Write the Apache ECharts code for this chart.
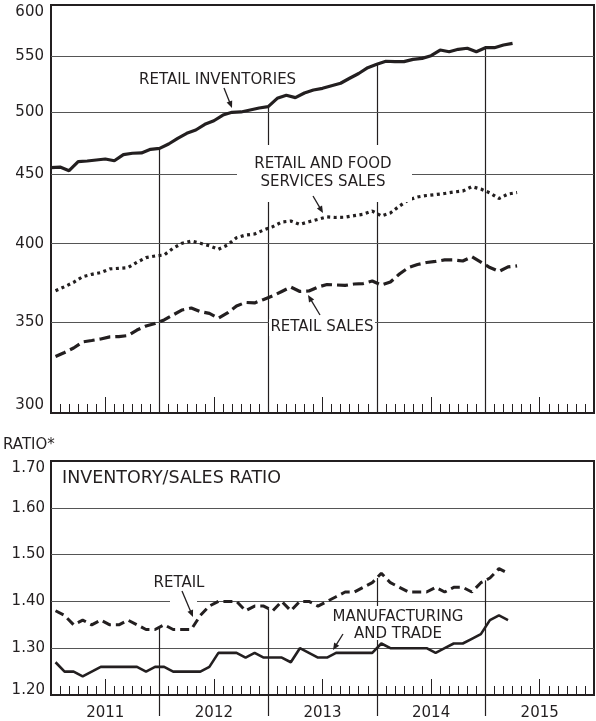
<!DOCTYPE html>
<html>
<head>
<meta charset="utf-8">
<script src="https://cdn.jsdelivr.net/npm/echarts@6/dist/echarts.min.js"></script>
<style>
  html, body { margin: 0; padding: 0; background: #fff; }
  #chart { width: 596px; height: 721px; }
</style>
</head>
<body>
<div id="chart"></div>
<script>
// ---------------- DATA ----------------
// Monthly, Jan 2011 onward (billions of dollars)
const retailInventories = [
  455.1, 455.6, 452.8, 459.8, 460.3, 461.1, 461.9, 460.5, 465.3, 466.4,
  466.7, 469.5, 470.3, 473.8, 478.4, 482.5, 485.2, 489.9, 492.9, 497.7,
  500.0, 500.3, 502.0, 503.7, 504.8, 512.0, 514.7, 512.6, 516.7, 519.3,
  520.8, 523.1, 525.3, 529.8, 534.1, 539.4, 542.5, 545.3, 545.0, 545.0,
  547.1, 548.0, 550.5, 555.8, 554.2, 556.5, 557.5, 554.2, 558.0, 558.0,
  560.6, 562.2
];
const retailFoodSales = [
  369.3, 371.8, 374.6, 378.2, 379.7, 380.8, 383.2, 383.6, 384.0, 387.6,
  390.6, 391.7, 392.4, 396.9, 400.3, 401.8, 400.3, 398.6, 396.2, 399.1,
  404.1, 405.9, 406.6, 409.4, 411.7, 415.0, 415.7, 413.3, 415.2, 416.9,
  418.6, 418.2, 418.4, 419.5, 420.5, 422.8, 419.3, 421.4, 426.4, 430.8,
  433.0, 434.1, 434.8, 435.6, 436.7, 437.4, 440.7, 438.9, 436.0, 431.9,
  435.2, 436.3
];
const retailSales = [
  330.2, 332.5, 335.0, 338.5, 339.3, 340.2, 341.4, 341.6, 342.2, 345.4,
  347.8, 349.3, 351.4, 354.4, 357.4, 358.6, 356.4, 355.3, 352.5, 355.6,
  359.8, 362.0, 361.7, 363.8, 366.0, 368.8, 371.6, 368.8, 369.1, 371.6,
  373.2, 372.9, 372.6, 373.5, 373.8, 375.4, 372.9, 374.8, 379.9, 384.1,
  386.1, 387.4, 388.1, 389.1, 389.1, 388.4, 391.2, 387.7, 384.1, 381.6,
  384.5, 385.2
];
const retailRatio = [
  1.38, 1.37, 1.35, 1.36, 1.35, 1.36, 1.35, 1.35, 1.36, 1.35,
  1.34, 1.34, 1.35, 1.34, 1.34, 1.34, 1.37, 1.39, 1.40, 1.40,
  1.40, 1.38, 1.39, 1.39, 1.38, 1.40, 1.38, 1.40, 1.40, 1.39,
  1.40, 1.41, 1.42, 1.42, 1.43, 1.44, 1.46, 1.44, 1.43, 1.42,
  1.42, 1.42, 1.43, 1.42, 1.43, 1.43, 1.42, 1.44, 1.45, 1.47,
  1.46
];
const mfgTradeRatio = [
  1.27, 1.25, 1.25, 1.24, 1.25, 1.26, 1.26, 1.26, 1.26, 1.26,
  1.25, 1.26, 1.26, 1.25, 1.25, 1.25, 1.25, 1.26, 1.29, 1.29,
  1.29, 1.28, 1.29, 1.28, 1.28, 1.28, 1.27, 1.30, 1.29, 1.28,
  1.28, 1.29, 1.29, 1.29, 1.29, 1.29, 1.31, 1.30, 1.30, 1.30,
  1.30, 1.30, 1.29, 1.30, 1.31, 1.31, 1.32, 1.33, 1.36, 1.37,
  1.36
];
const yearLabels = ['2011', '2012', '2013', '2014', '2015'];
const topTicks = [300, 350, 400, 450, 500, 550, 600];
const yearBoundaries = [12, 24, 36, 48];   // month index of Jan of each new year

// ---------------- STYLE / LAYOUT ----------------
const INK = '#231f20';
const GRID = '#555555';
const FONT = '"DejaVu Sans", sans-serif';
const PL = 51, PW = 543;           // plot left / width
const TOP1 = 5, H1 = 408;
const TOP2 = 461, H2 = 234;
const MONTHS = 60;

const inventorySeries = retailInventories.map((v, i) => [i, v]);
const foodSeries = retailFoodSales.map((v, i) => [i + 0.5, v]);
const salesSeries = retailSales.map((v, i) => [i + 0.5, v]);
const retailRatioSeries = retailRatio.map((v, i) => [i + 0.5, v]);
const mfgSeries = mfgTradeRatio.map((v, i) => [i + 0.5, v]);

const topDrop = yearBoundaries.map(b => [
  { coord: [b, retailInventories[b]] },
  { coord: [b, topTicks[0]] }
]);
const bottomDrop = yearBoundaries.map(b => [
  { coord: [b, (retailRatio[b - 1] + retailRatio[b]) / 2] },
  { coord: [b, 1.2] }
]);

function xAxisBase(gi, withLabels) {
  return {
    gridIndex: gi, type: 'value', min: 0, max: MONTHS, interval: 6,
    axisLine: { show: false },
    axisTick: { show: true, inside: true, length: 16, lineStyle: { color: INK, width: 1 } },
    minorTick: { show: true, splitNumber: 6, length: 9, lineStyle: { color: INK, width: 1 } },
    splitLine: { show: false },
    axisLabel: withLabels ? {
      show: true, margin: 11, fontSize: 15, fontFamily: FONT, color: INK,
      formatter: v => {
        const k = Math.round(v);
        return (k % 12 === 6) ? (yearLabels[(k - 6) / 12] || '') : '';
      }
    } : { show: false }
  };
}

function arrow(x1, y1, x2, y2) {
  const dx = x2 - x1, dy = y2 - y1, L = Math.hypot(dx, dy);
  const ux = dx / L, uy = dy / L, hl = 7, hw = 3;
  const bx = x2 - ux * hl, by = y2 - uy * hl;
  return [
    { type: 'line', z: 102, shape: { x1: x1, y1: y1, x2: bx + ux, y2: by + uy },
      style: { stroke: INK, lineWidth: 1.3 } },
    { type: 'polygon', z: 102,
      shape: { points: [[x2, y2], [bx - uy * hw, by + ux * hw], [bx + uy * hw, by - ux * hw]] },
      style: { fill: INK } }
  ];
}
function txt(text, x, y, size, align) {
  return {
    type: 'text', z: 103, x: x, y: y,
    style: {
      text: text, fill: INK, font: size + 'px ' + FONT,
      align: align || 'center', verticalAlign: 'middle',
      textAlign: align || 'center', textVerticalAlign: 'middle'
    }
  };
}
function whiteBox(x, y, w, h) {
  return { type: 'rect', z: 100, shape: { x: x, y: y, width: w, height: h },
           style: { fill: '#fff' } };
}

const graphics = [
  whiteBox(237, 145, 175, 57),
  whiteBox(269, 319, 106, 17),
  whiteBox(170, 598, 27, 6),
  whiteBox(322, 606, 152, 19),
  whiteBox(350, 624, 98, 16),
  txt('RETAIL INVENTORIES', 139, 80, 15, 'left'),
  txt('RETAIL AND FOOD', 323, 164, 15),
  txt('SERVICES SALES', 323, 182, 15),
  txt('RETAIL SALES', 322, 327, 15),
  txt('RATIO*', 3, 445, 15, 'left'),
  txt('INVENTORY/SALES RATIO', 62, 478, 17.5, 'left'),
  txt('RETAIL', 179, 583, 15),
  txt('MANUFACTURING', 398, 617, 15),
  txt('AND TRADE', 398, 634, 15),
  ...arrow(224, 88, 232, 108),
  ...arrow(313, 196, 323, 213),
  ...arrow(320, 315, 308, 295),
  ...arrow(182, 591, 193, 617),
  ...arrow(343, 634, 333, 650)
];

const topMin = topTicks[0], topMax = topTicks[topTicks.length - 1];
const gridLineData = topTicks.map(v => {
  if (v === topMax) return { yAxis: v, lineStyle: { color: INK, width: 2 }, label: { verticalAlign: 'top' } };
  if (v === topMin) return { yAxis: v, lineStyle: { color: INK, width: 2 }, label: { verticalAlign: 'bottom' } };
  return { yAxis: v };
});

const chart = echarts.init(document.getElementById('chart'), null, { renderer: 'canvas' });
chart.setOption({
  animation: false,
  backgroundColor: '#fff',
  grid: [
    { left: PL, top: TOP1, width: PW, height: H1, show: true, borderColor: INK, borderWidth: 2,
      backgroundColor: 'transparent', containLabel: false, outerBoundsMode: 'none' },
    { left: PL, top: TOP2, width: PW, height: H2, show: true, borderColor: INK, borderWidth: 2,
      backgroundColor: 'transparent', containLabel: false, outerBoundsMode: 'none' },
    { left: PL + PW * 12 / MONTHS, top: TOP2 + H2, width: PW * 36 / MONTHS, height: 21,
      show: false, containLabel: false, outerBoundsMode: 'none' }
  ],
  xAxis: [
    xAxisBase(0, false),
    xAxisBase(1, true),
    { gridIndex: 2, type: 'value', min: 12, max: 48, interval: 12,
      axisLine: { show: false }, axisTick: { show: false }, axisLabel: { show: false },
      splitLine: { show: true, lineStyle: { color: INK, width: 1.2 } } }
  ],
  yAxis: [
    { gridIndex: 0, type: 'log', logBase: 10, min: 300, max: 600,
      axisLine: { show: false }, axisTick: { show: false }, axisLabel: { show: false },
      splitLine: { show: false }, minorTick: { show: false } },
    { gridIndex: 1, type: 'value', min: 1.2, max: 1.7, interval: 0.1,
      axisLine: { show: false }, axisTick: { show: false },
      axisLabel: { margin: 6, fontSize: 15, fontFamily: FONT, color: INK,
                   formatter: v => {
                     const s = v.toFixed(2);
                     if (v > 1.695) return '{mx|' + s + '}';
                     if (v < 1.205) return '{mn|' + s + '}';
                     return s;
                   },
                   rich: {
                     mx: { fontSize: 15, fontFamily: FONT, color: INK, padding: [14, 0, 0, 0] },
                     mn: { fontSize: 15, fontFamily: FONT, color: INK, padding: [0, 0, 10, 0] }
                   } },
      splitLine: { show: true, showMinLine: false, showMaxLine: false,
                   lineStyle: { color: GRID, width: 1.2 } } },
    { gridIndex: 2, type: 'value', min: 0, max: 1, show: false }
  ],
  series: [
    { name: 'Retail inventories', type: 'line', xAxisIndex: 0, yAxisIndex: 0,
      data: inventorySeries, showSymbol: false, z: 3,
      lineStyle: { color: INK, width: 3.2 },
      markLine: { silent: true, symbol: 'none', z: 1, label: { show: false },
                  lineStyle: { color: INK, width: 1.2, type: 'solid' }, data: topDrop } },
    { name: 'Retail and food services sales', type: 'line', xAxisIndex: 0, yAxisIndex: 0,
      data: foodSeries, showSymbol: false, z: 3,
      lineStyle: { color: INK, width: 3.2, type: [3, 3.5], cap: 'butt' } },
    { name: 'Retail sales', type: 'line', xAxisIndex: 0, yAxisIndex: 0,
      data: salesSeries, showSymbol: false, z: 3,
      lineStyle: { color: INK, width: 3.2, type: [11, 5], cap: 'butt' },
      markLine: { silent: true, symbol: 'none', z: 1,
        lineStyle: { color: GRID, width: 1.2, type: 'solid' },
        label: { show: true, position: 'start', distance: 7, fontSize: 15, fontFamily: FONT,
                 color: INK, formatter: p => String(p.value) },
        data: gridLineData } },
    { name: 'Retail ratio', type: 'line', xAxisIndex: 1, yAxisIndex: 1,
      data: retailRatioSeries, showSymbol: false, z: 3,
      lineStyle: { color: INK, width: 3, type: [9, 5], cap: 'butt' },
      markLine: { silent: true, symbol: 'none', z: 1, label: { show: false },
                  lineStyle: { color: INK, width: 1.2, type: 'solid' }, data: bottomDrop } },
    { name: 'Manufacturing and trade ratio', type: 'line', xAxisIndex: 1, yAxisIndex: 1,
      data: mfgSeries, showSymbol: false, z: 3,
      lineStyle: { color: INK, width: 2.6 } },
    { name: 'sep', type: 'line', xAxisIndex: 2, yAxisIndex: 2, data: [], showSymbol: false }
  ],
  graphic: { elements: graphics }
});
</script>
</body>
</html>
